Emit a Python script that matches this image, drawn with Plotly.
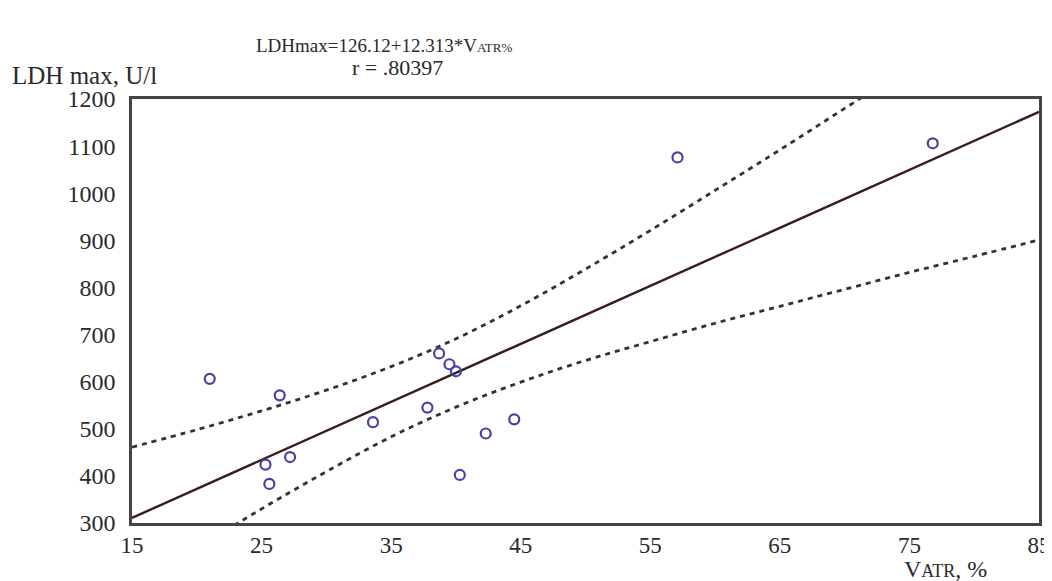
import plotly.graph_objects as go

# Data points
vatr = [21.0, 26.4, 25.3, 25.6, 27.2, 33.6, 37.8, 38.7, 39.5, 40.0, 40.3, 42.3, 44.5, 57.1, 76.8]
ldh = [606, 571, 424, 383, 440, 514, 545, 660, 637, 622, 402, 490, 520, 1076, 1106]

# Regression line (LDHmax = 126.12 + 12.313*VATR%) end values
fit_x = [15, 85]
fit_y = [310.8, 1172.7]

# Confidence bands
band_x = [15, 20, 25, 30, 35, 40, 45, 50, 55, 60, 65, 70, 75, 80, 85]
upper_y = [461, 498, 538, 582, 632, 691, 761, 839, 921, 1006, 1092, 1180, 1268, 1356, 1445]
lower_y = [161, 246, 330, 409, 483, 546, 599, 645, 685, 724, 760, 796, 832, 866, 901]

x_ticks = [15, 25, 35, 45, 55, 65, 75, 85]
y_ticks = [300, 400, 500, 600, 700, 800, 900, 1000, 1100, 1200]

FONT = "Liberation Serif"
TXT = "#2a2a2a"

# page body has an 8px margin, so the figure is drawn 8px smaller and offset
L, R, T, B = 124, 13, 91, 58
W, H = 1044, 573
PW, PH = W - L - R, H - T - B
OX, OY = 8 + L, 8 + T + PH  # screen x of plot left, screen y of plot bottom


def px(sx):
    return (sx - OX) / PW


def py(sy):
    return (OY - sy) / PH


fig = go.Figure()
fig.add_trace(go.Scatter(x=band_x, y=upper_y, mode="lines",
                         line=dict(color="#333333", width=2.8, dash="5px,5px", shape="spline"), hoverinfo="skip"))
fig.add_trace(go.Scatter(x=band_x, y=lower_y, mode="lines",
                         line=dict(color="#333333", width=2.8, dash="5px,5px", shape="spline"), hoverinfo="skip"))
fig.add_trace(go.Scatter(x=fit_x, y=fit_y, mode="lines", line=dict(color="#3a1c1c", width=2.4)))
fig.add_trace(go.Scatter(x=vatr, y=ldh, mode="markers",
                         marker=dict(symbol="circle-open", size=10, color="#4a40a8",
                                     line=dict(width=2.2, color="#4a40a8"))))

fig.update_layout(
    width=W, height=H,
    margin=dict(l=L, r=R, t=T, b=B, autoexpand=False),
    paper_bgcolor="white", plot_bgcolor="white",
    showlegend=False,
    font=dict(family=FONT, color=TXT, size=24),
)
fig.update_xaxes(range=[15, 85], tickvals=x_ticks, ticktext=[str(v) for v in x_ticks],
                 showgrid=False, zeroline=False, showline=True, mirror=True,
                 linecolor="#444444", linewidth=2.5, ticks="", ticklabelstandoff=0,
                 tickfont=dict(family=FONT, size=23, color=TXT))
fig.update_yaxes(range=[300, 1200], tickvals=y_ticks, ticktext=[str(v) for v in y_ticks],
                 showgrid=False, zeroline=False, showline=True, mirror=True,
                 linecolor="#444444", linewidth=2.5, ticks="", ticklabelstandoff=9,
                 tickfont=dict(family=FONT, size=24, color=TXT))

fig.add_annotation(xref="paper", yref="paper", x=px(384), y=py(45),
                   text="LDHmax=126.12+12.313*V<span style='font-size:13px'>ATR%</span>",
                   showarrow=False, xanchor="center", yanchor="middle",
                   font=dict(family=FONT, size=19, color=TXT))
fig.add_annotation(xref="paper", yref="paper", x=px(397), y=py(68),
                   text="r = .80397", showarrow=False, xanchor="center", yanchor="middle",
                   font=dict(family=FONT, size=22, color=TXT))
fig.add_annotation(xref="paper", yref="paper", x=px(10), y=py(76),
                   text="LDH max, U/l", showarrow=False, xanchor="left", yanchor="middle",
                   font=dict(family=FONT, size=25, color=TXT))
fig.add_annotation(xref="paper", yref="paper", x=px(945), y=py(569),
                   text="V<span style='font-size:18px'>ATR</span>, %", showarrow=False,
                   xanchor="center", yanchor="middle", font=dict(family=FONT, size=24, color=TXT))

fig.write_html("out.html")
